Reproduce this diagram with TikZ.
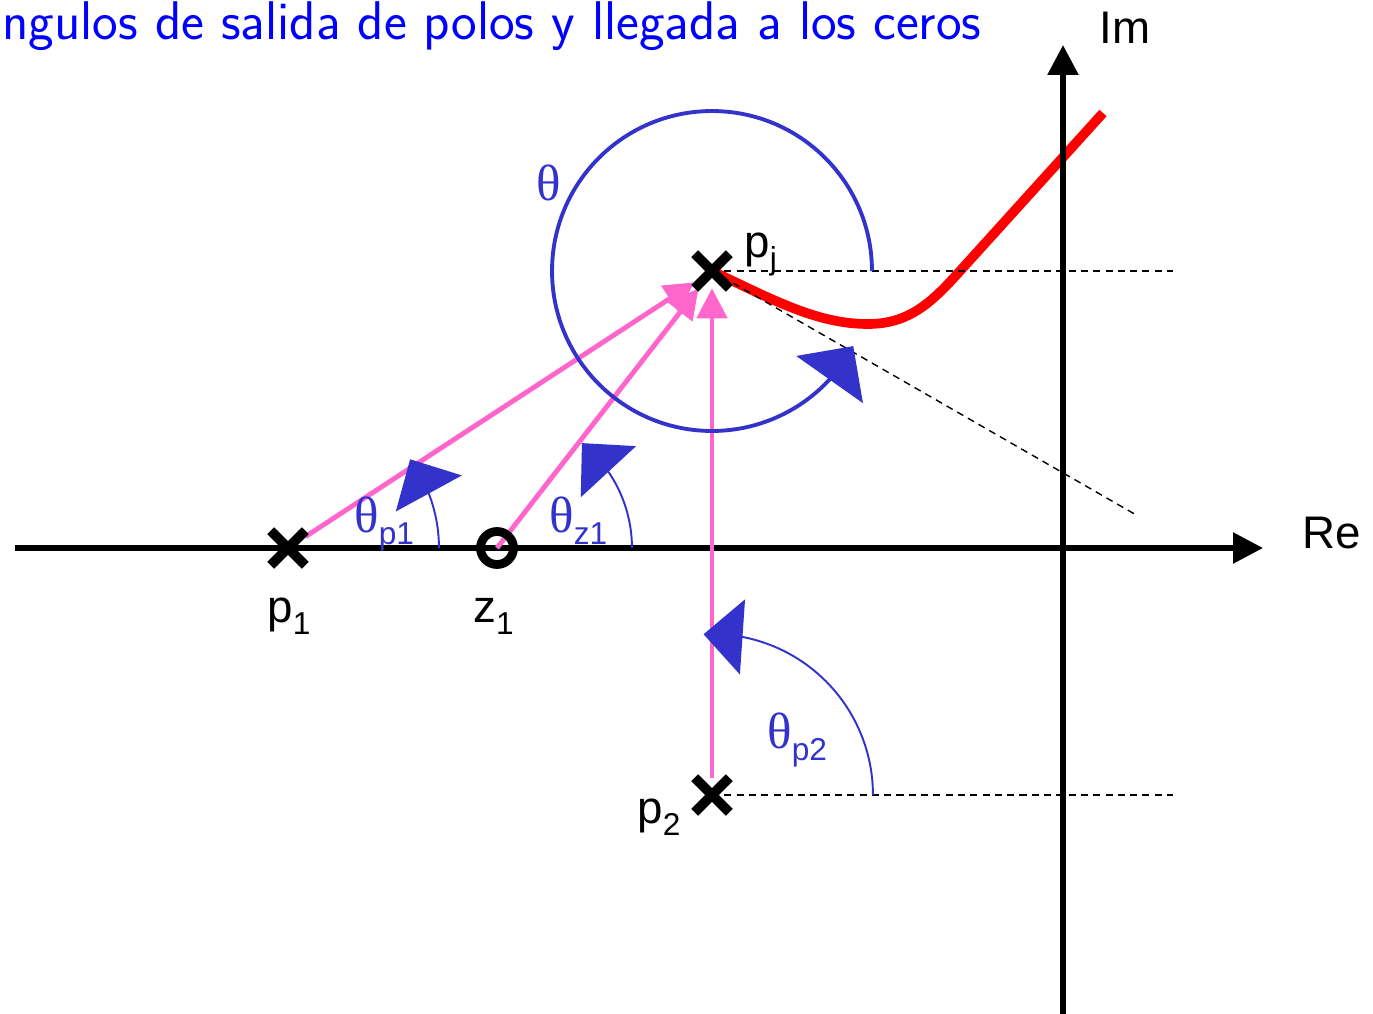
\documentclass[tikz,border=0pt]{standalone}
\usepackage{fontspec}
\setmainfont{Liberation Sans}
\newfontfamily\greekfont{Liberation Serif}
\definecolor{arcBlue}{RGB}{51,51,204}
\definecolor{rayPink}{RGB}{255,102,204}
\definecolor{titleBlue}{RGB}{0,0,255}
\usetikzlibrary{arrows.meta,bending,shapes.misc,backgrounds}

\newcommand{\pidx}[1]{\raisebox{-7pt}{\fontsize{18}{18}\selectfont #1}}
\newcommand{\thidx}[1]{\raisebox{-7pt}{\fontsize{18}{18}\selectfont #1}}
\newcommand{\thsym}{{\greekfont\fontsize{29}{29}\selectfont θ}}

\begin{document}
\begin{tikzpicture}[x=0.02cm, y=0.02cm,
    pole/.style={cross out, draw, line width=5.5pt, minimum size=0.5cm, inner sep=0pt},
    zero/.style={circle, draw, line width=5pt, minimum size=0.66cm, inner sep=0pt},
    axis/.style={line width=3.2pt, -{Triangle[length=0.6cm,width=0.6cm]}},
    ray/.style={rayPink, line width=2.8pt, -{Triangle[length=0.6cm,width=0.6cm]}},
    angarc/.style={arcBlue, line width=1.1pt, -{Triangle[length=0.78cm,width=1.5cm]}},
    guide/.style={line width=0.8pt, dash pattern=on 4pt off 3pt},
    locus/.style={red, line width=5.5pt},
    lbl/.style={font=\fontsize{26}{30}\selectfont, inner sep=0pt, anchor=base west},
    anglbl/.style={text=arcBlue, inner sep=0pt, anchor=base west}
  ]
  \useasboundingbox (0,0) rectangle (1373,-1014);

  \node[anchor=base west, inner sep=0pt, text=titleBlue,
        font=\sffamily\fontsize{31}{36}\selectfont] (title) at (2,-39)
    {ngulos de salida de polos y llegada a los ceros};

  % poles and zero
  \node[pole] (p1) at (288,-548) {};
  \node[zero] (z1) at (497,-548) {};
  \node[pole] (pj) at (712,-271) {};
  \node[pole] (p2) at (712,-795) {};

  \node[lbl] (p1lbl) at (267,-622) {p\pidx{1}};
  \node[lbl] (z1lbl) at (473,-622) {z\pidx{1}};
  \node[lbl] (p2lbl) at (637,-823) {p\pidx{2}};
  \node[lbl] (pjlbl) at (744,-257) {p\pidx{j}};
  \node[lbl] (relbl) at (1302,-548) {Re};
  \node[lbl] (imlbl) at (1099,-43) {Im};

  \coordinate (reL) at (15,-548);
  \coordinate (reR) at (1263,-548);
  \coordinate (imB) at (1063,-1014);
  \coordinate (imT) at (1063,-45);
  \coordinate (hEnd) at (1173,-271);
  \coordinate (dEnd) at (1138,-516);
  \coordinate (p2End) at (1173,-795);
  \coordinate (rlBottom) at (868,-324);
  \coordinate (rlCross) at (960,-271);
  \coordinate (rlEnd) at (1103,-113);

  \begin{scope}[on background layer]
    \draw[locus] (pj.center) .. controls (775,-301) and (818,-324) .. (rlBottom)
      to[out=0,in=228] (rlCross) -- (rlEnd);
    \draw[axis] (reL) -- (reR);
    \draw[axis] (imB) -- (imT);
    \draw[guide] (pj.center) -- (hEnd);
    \draw[guide] (pj.center) -- (dEnd);
    \draw[guide] (p2.center) -- (p2End);
    \draw[ray] (p1) -- (pj);
    \draw[ray] (z1.center) -- (pj);
    \draw[ray] (p2) -- (pj);
  \end{scope}

  % angles
  \draw[angarc, line width=2.2pt, -{Triangle[length=0.82cm,width=1.62cm]}]
    ([shift={(0:3.2cm)}]pj.center) arc[start angle=0, end angle=332, radius=3.2cm];
  \draw[angarc] ([shift={(0:3.02cm)}]p1.center) arc[start angle=0, end angle=36, radius=3.02cm];
  \draw[angarc] ([shift={(0:2.7cm)}]z1.center) arc[start angle=0, end angle=51, radius=2.7cm];
  \draw[angarc] ([shift={(0:3.22cm)}]p2.center) arc[start angle=0, end angle=93, radius=3.22cm];

  \node[anglbl] (thlbl) at (536,-200) {\thsym};
  \node[anglbl] (thp1lbl) at (354,-532) {\thsym\thidx{p1}};
  \node[anglbl] (thz1lbl) at (549,-532) {\thsym\thidx{z1}};
  \node[anglbl] (thp2lbl) at (767,-748) {\thsym\thidx{p2}};
\end{tikzpicture}
\end{document}
